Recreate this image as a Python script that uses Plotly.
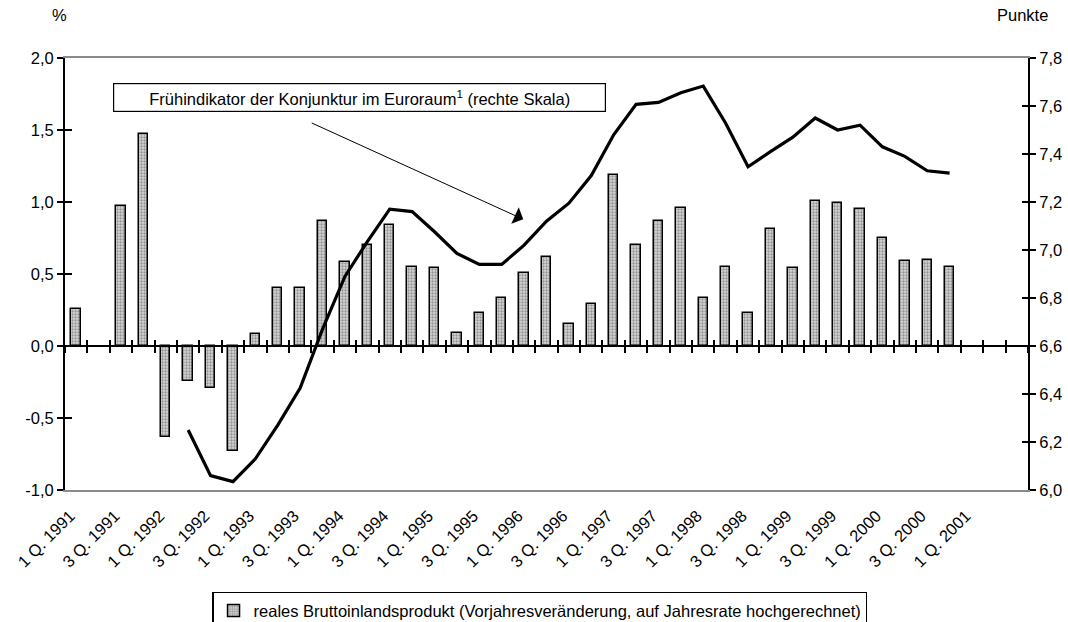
import plotly.graph_objects as go

# ---------------- data ----------------
categories = [
    "1 Q. 1991", "2 Q. 1991", "3 Q. 1991", "4 Q. 1991",
    "1 Q. 1992", "2 Q. 1992", "3 Q. 1992", "4 Q. 1992",
    "1 Q. 1993", "2 Q. 1993", "3 Q. 1993", "4 Q. 1993",
    "1 Q. 1994", "2 Q. 1994", "3 Q. 1994", "4 Q. 1994",
    "1 Q. 1995", "2 Q. 1995", "3 Q. 1995", "4 Q. 1995",
    "1 Q. 1996", "2 Q. 1996", "3 Q. 1996", "4 Q. 1996",
    "1 Q. 1997", "2 Q. 1997", "3 Q. 1997", "4 Q. 1997",
    "1 Q. 1998", "2 Q. 1998", "3 Q. 1998", "4 Q. 1998",
    "1 Q. 1999", "2 Q. 1999", "3 Q. 1999", "4 Q. 1999",
    "1 Q. 2000", "2 Q. 2000", "3 Q. 2000", "4 Q. 2000",
    "1 Q. 2001", "2 Q. 2001", "3 Q. 2001",
]
labelled = [
    "1 Q. 1991", "3 Q. 1991", "1 Q. 1992", "3 Q. 1992", "1 Q. 1993", "3 Q. 1993",
    "1 Q. 1994", "3 Q. 1994", "1 Q. 1995", "3 Q. 1995", "1 Q. 1996", "3 Q. 1996",
    "1 Q. 1997", "3 Q. 1997", "1 Q. 1998", "3 Q. 1998", "1 Q. 1999", "3 Q. 1999",
    "1 Q. 2000", "3 Q. 2000", "1 Q. 2001",
]

# real GDP, % (left axis)
bip = [
    0.26, None, 0.97, 1.47, -0.63, -0.24, -0.29, -0.73,
    0.08, 0.40, 0.40, 0.87, 0.58, 0.70, 0.84, 0.55,
    0.54, 0.09, 0.23, 0.33, 0.51, 0.62, 0.15, 0.29,
    1.19, 0.70, 0.87, 0.96, 0.33, 0.55, 0.23, 0.81,
    0.54, 1.01, 0.99, 0.95, 0.75, 0.59, 0.60, 0.55,
    None, None, None,
]
# leading indicator, points (right axis)
indikator = [
    None, None, None, None, None, 6.25, 6.06, 6.035,
    6.13, 6.27, 6.425, 6.67, 6.89, 7.035, 7.17, 7.16,
    7.076, 6.986, 6.94, 6.94, 7.02, 7.12, 7.195, 7.31,
    7.48, 7.607, 7.615, 7.655, 7.683, 7.528, 7.347, 7.41,
    7.47, 7.55, 7.50, 7.52, 7.43, 7.39, 7.33, 7.32,
    None, None, None,
]

left_ticks = [-1.0, -0.5, 0.0, 0.5, 1.0, 1.5, 2.0]
left_labels = ["-1,0", "-0,5", "0,0", "0,5", "1,0", "1,5", "2,0"]
right_ticks = [6.0, 6.2, 6.4, 6.6, 6.8, 7.0, 7.2, 7.4, 7.6, 7.8]
right_labels = ["6,0", "6,2", "6,4", "6,6", "6,8", "7,0", "7,2", "7,4", "7,6", "7,8"]

bar_name = "reales Bruttoinlandsprodukt (Vorjahresveränderung, auf Jahresrate hochgerechnet)"
box_text = "Frühindikator der Konjunktur im Euroraum<sup>1</sup> (rechte Skala)"

# ---------------- figure ----------------
FONT = "Liberation Sans, Arial, sans-serif"
FS = 16.5
n = len(categories)
idx = list(range(n))
label_pos = [categories.index(c) for c in labelled]
bounds = [i - 0.5 for i in range(n + 1)]
xr = [-0.5, n - 0.5]

fig = go.Figure()

fig.add_trace(go.Bar(
    x=idx, y=bip, name=bar_name, width=0.42,
    marker=dict(
        color="#d6d6d6",
        line=dict(color="black", width=1.5),
        pattern=dict(shape=".", fgcolor="#505050", bgcolor="#d6d6d6",
                     size=3, solidity=0.45, fillmode="overlay"),
    ),
    xaxis="x", yaxis="y",
))
fig.add_trace(go.Scatter(
    x=idx, y=indikator, mode="lines", line=dict(color="black", width=3.2),
    showlegend=False, xaxis="x", yaxis="y2", connectgaps=False,
))
# helper invisible traces so the overlay axes are drawn
for xa, ya in [("x2", "y"), ("x3", "y"), ("x", "y3"), ("x", "y4")]:
    fig.add_trace(go.Scatter(x=[None], y=[None], xaxis=xa, yaxis=ya,
                             showlegend=False, hoverinfo="skip"))

common_x = dict(range=xr, showgrid=False, zeroline=False)
fig.update_layout(
    width=1068, height=622,
    paper_bgcolor="white", plot_bgcolor="white",
    separators=",.",
    font=dict(family=FONT, size=FS, color="black"),
    margin=dict(l=65, r=40, t=58, b=132, autoexpand=False),
    bargap=0,
    xaxis=dict(**common_x, tickmode="array", tickvals=label_pos, ticktext=labelled,
               tickangle=-45, ticks="", showline=True, linecolor="#8a8a8a",
               linewidth=1.5, mirror=True, ticklabelstandoff=8,
               ticklabelshift=-6, tickfont=dict(size=FS)),
    xaxis2=dict(**common_x, overlaying="x", anchor="free", position=1/3,
                tickmode="array", tickvals=bounds, ticks="outside", ticklen=6,
                tickwidth=1.5, tickcolor="black", showticklabels=False,
                showline=True, linecolor="black", linewidth=2),
    xaxis3=dict(**common_x, overlaying="x", anchor="free", position=1/3,
                tickmode="array", tickvals=bounds, ticks="inside", ticklen=6,
                tickwidth=1.5, tickcolor="black", showticklabels=False,
                showline=False),
    yaxis=dict(range=[-1, 2], tickmode="array", tickvals=left_ticks,
               ticktext=left_labels, ticks="outside", ticklen=6, tickwidth=1.5,
               tickcolor="black", showline=True, linecolor="black", linewidth=2,
               showgrid=False, zeroline=False, tickfont=dict(size=FS)),
    yaxis3=dict(range=[-1, 2], overlaying="y", side="left", tickmode="array",
                tickvals=left_ticks, ticks="inside", ticklen=7, tickwidth=1.5,
                tickcolor="black", showticklabels=False, showline=False,
                showgrid=False, zeroline=False),
    yaxis2=dict(range=[6.0, 7.8], overlaying="y", side="right", tickmode="array",
                tickvals=right_ticks, ticktext=right_labels, ticks="outside",
                ticklen=6, tickwidth=1.5, tickcolor="black", showline=True,
                linecolor="black", linewidth=2, showgrid=False, zeroline=False,
                tickfont=dict(size=FS)),
    yaxis4=dict(range=[6.0, 7.8], overlaying="y", side="right", tickmode="array",
                tickvals=right_ticks, ticks="inside", ticklen=6, tickwidth=1.5,
                tickcolor="black", showticklabels=False, showline=False,
                showgrid=False, zeroline=False),
    showlegend=True,
    legend=dict(orientation="h", x=0.153, xanchor="left", y=-0.236, yanchor="top",
                bordercolor="black", borderwidth=1.2, bgcolor="white",
                font=dict(size=FS), itemwidth=30, tracegroupgap=0),
)

fig.add_annotation(text="%", xref="paper", yref="paper", x=-0.006, y=1.0995,
                   xanchor="center", yanchor="middle", showarrow=False)
fig.add_annotation(text="Punkte", xref="paper", yref="paper", x=0.994, y=1.0995,
                   xanchor="center", yanchor="middle", showarrow=False)
fig.add_annotation(text=box_text, xref="paper", yref="paper", x=0.3057, y=0.908,
                   xanchor="center", yanchor="middle", showarrow=False,
                   bordercolor="black", borderwidth=1.2, borderpad=3,
                   bgcolor="white", width=485, height=21)
fig.add_annotation(text="", xref="x", yref="y2", x=19.96, y=7.128,
                   axref="pixel", ayref="pixel", ax=-213, ay=-97,
                   showarrow=True, arrowhead=1, arrowsize=3, arrowwidth=1,
                   arrowcolor="black", standoff=0)

fig.write_html("out.html", config={"displayModeBar": False},
               post_script="document.body.style.margin='0';document.body.style.overflow='hidden';")
